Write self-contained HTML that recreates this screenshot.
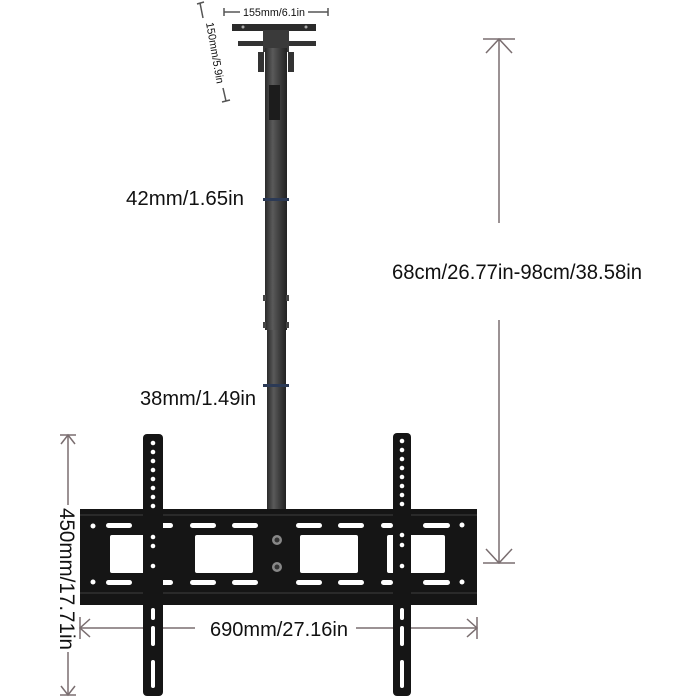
<!DOCTYPE html>
<html><head><meta charset="utf-8"><style>
html,body{margin:0;padding:0;background:#fff;}
svg{display:block;}
text{font-family:"Liberation Sans",sans-serif;fill:#111;}
</style></head><body>
<svg width="700" height="700" viewBox="0 0 700 700" xmlns="http://www.w3.org/2000/svg">
<defs>
<linearGradient id="pg" x1="0" x2="1" y1="0" y2="0">
<stop offset="0" stop-color="#2a2a2a"/><stop offset="0.35" stop-color="#5a5a5a"/><stop offset="0.7" stop-color="#3a3a3a"/><stop offset="1" stop-color="#222"/>
</linearGradient>
</defs>
<g stroke="#555" stroke-width="1.5">
<line x1="224" y1="12" x2="240" y2="12"/><line x1="224" y1="8" x2="224" y2="16"/>
<line x1="308" y1="12" x2="328" y2="12"/><line x1="328" y1="8" x2="328" y2="16"/>
<line x1="200" y1="3" x2="203" y2="18"/><line x1="197" y1="4" x2="204" y2="2"/>
<line x1="223" y1="88" x2="226" y2="101"/><line x1="222" y1="102" x2="230" y2="100"/>
</g>
<text x="243" y="16" font-size="11" textLength="62" lengthAdjust="spacingAndGlyphs">155mm/6.1in</text>
<text x="0" y="0" font-size="11" transform="translate(206,23) rotate(80)" textLength="62" lengthAdjust="spacingAndGlyphs">150mm/5.9in</text>
<rect x="232" y="24" width="84" height="7" fill="#2b2b2b"/>
<rect x="238" y="41" width="78" height="5" fill="#333"/>
<circle cx="243" cy="27" r="1.5" fill="#aaa"/><circle cx="306" cy="27" r="1.5" fill="#aaa"/>
<rect x="263" y="30" width="26" height="22" fill="#3a3a3a"/>
<rect x="265" y="48" width="22" height="282" fill="url(#pg)"/>
<rect x="258" y="52" width="6" height="20" fill="#333"/><rect x="288" y="52" width="6" height="20" fill="#333"/>
<rect x="269" y="85" width="11" height="35" fill="#1c1c1c"/>
<rect x="267" y="330" width="19" height="182" fill="url(#pg)"/>
<rect x="263" y="198" width="26" height="3" fill="#2c3a55"/>
<rect x="263" y="384" width="26" height="3" fill="#2c3a55"/>
<rect x="263" y="295" width="3" height="6" fill="#444"/><rect x="286" y="295" width="3" height="6" fill="#444"/>
<rect x="263" y="322" width="3" height="6" fill="#444"/><rect x="286" y="322" width="3" height="6" fill="#444"/>
<text x="126" y="205" font-size="20" textLength="118" lengthAdjust="spacingAndGlyphs">42mm/1.65in</text>
<text x="140" y="405" font-size="20" textLength="116" lengthAdjust="spacingAndGlyphs">38mm/1.49in</text>
<text x="392" y="279" font-size="21" textLength="250" lengthAdjust="spacingAndGlyphs">68cm/26.77in-98cm/38.58in</text>
<g stroke="#7a6e70" stroke-width="1.5" fill="none">
<line x1="499" y1="39" x2="499" y2="223"/><line x1="483" y1="39" x2="515" y2="39"/>
<polyline points="486,53 499,39 512,53"/>
<line x1="499" y1="320" x2="499" y2="563"/><line x1="483" y1="563" x2="515" y2="563"/>
<polyline points="486,549 499,563 512,549"/>
<line x1="68" y1="435" x2="68" y2="505"/><line x1="60" y1="435" x2="76" y2="435"/>
<polyline points="61,444 68,435 75,444"/>
<line x1="68" y1="652" x2="68" y2="695"/><line x1="60" y1="695" x2="76" y2="695"/>
<polyline points="61,686 68,695 75,686"/>
<line x1="80" y1="628" x2="195" y2="628"/><line x1="80" y1="617" x2="80" y2="639"/>
<polyline points="90,619 80,628 90,637"/>
<line x1="356" y1="628" x2="477" y2="628"/><line x1="477" y1="617" x2="477" y2="639"/>
<polyline points="467,619 477,628 467,637"/>
</g>
<text x="0" y="0" font-size="21" transform="translate(60,508) rotate(90)" textLength="142" lengthAdjust="spacingAndGlyphs">450mm/17.71in</text>
<text x="210" y="636" font-size="20" textLength="138" lengthAdjust="spacingAndGlyphs">690mm/27.16in</text>
<rect x="80" y="509" width="397" height="96" fill="#151515"/>
<rect x="80" y="514" width="397" height="2" fill="#2a2a2a"/>
<rect x="80" y="592" width="397" height="2" fill="#2a2a2a"/>
<g fill="#fff">
<circle cx="93" cy="526" r="2.5"/><circle cx="93" cy="582" r="2.5"/>
<circle cx="462" cy="525" r="2.5"/><circle cx="462" cy="582" r="2.5"/>
<rect x="106" y="523" width="26" height="5" rx="2.5"/><rect x="160" y="523" width="13" height="5" rx="2.5"/>
<rect x="190" y="523" width="26" height="5" rx="2.5"/><rect x="232" y="523" width="26" height="5" rx="2.5"/>
<rect x="296" y="523" width="26" height="5" rx="2.5"/><rect x="338" y="523" width="26" height="5" rx="2.5"/>
<rect x="381" y="523" width="12" height="5" rx="2.5"/><rect x="423" y="523" width="27" height="5" rx="2.5"/>
<rect x="106" y="580" width="26" height="5" rx="2.5"/><rect x="160" y="580" width="13" height="5" rx="2.5"/>
<rect x="190" y="580" width="26" height="5" rx="2.5"/><rect x="232" y="580" width="26" height="5" rx="2.5"/>
<rect x="296" y="580" width="26" height="5" rx="2.5"/><rect x="338" y="580" width="26" height="5" rx="2.5"/>
<rect x="381" y="580" width="12" height="5" rx="2.5"/><rect x="423" y="580" width="27" height="5" rx="2.5"/>
<rect x="110" y="535" width="48" height="38" rx="2"/>
<rect x="195" y="535" width="58" height="38" rx="2"/>
<rect x="300" y="535" width="58" height="38" rx="2"/>
<rect x="387" y="535" width="58" height="38" rx="2"/>
</g>
<circle cx="277" cy="540" r="5" fill="#888"/><circle cx="277" cy="540" r="2.5" fill="#333"/>
<circle cx="277" cy="567" r="5" fill="#888"/><circle cx="277" cy="567" r="2.5" fill="#333"/>
<rect x="143" y="434" width="20" height="262" rx="4" fill="#151515"/>
<rect x="393" y="433" width="18" height="263" rx="4" fill="#151515"/>
<g fill="#fff">
<circle cx="153" cy="443" r="2.3"/><circle cx="153" cy="452" r="2.3"/><circle cx="153" cy="461" r="2.3"/><circle cx="153" cy="470" r="2.3"/><circle cx="153" cy="479" r="2.3"/><circle cx="153" cy="488" r="2.3"/><circle cx="153" cy="497" r="2.3"/><circle cx="153" cy="506" r="2.3"/>
<circle cx="153" cy="537" r="2.3"/><circle cx="153" cy="546" r="2.3"/><circle cx="153" cy="566" r="2.3"/>
<rect x="151" y="608" width="4" height="12" rx="2"/><rect x="151" y="626" width="4" height="20" rx="2"/><rect x="151" y="660" width="4" height="28" rx="2"/>
<circle cx="402" cy="441" r="2.3"/><circle cx="402" cy="450" r="2.3"/><circle cx="402" cy="459" r="2.3"/><circle cx="402" cy="468" r="2.3"/><circle cx="402" cy="477" r="2.3"/><circle cx="402" cy="486" r="2.3"/><circle cx="402" cy="495" r="2.3"/><circle cx="402" cy="504" r="2.3"/>
<circle cx="402" cy="535" r="2.3"/><circle cx="402" cy="545" r="2.3"/><circle cx="402" cy="566" r="2.3"/>
<rect x="400" y="608" width="4" height="12" rx="2"/><rect x="400" y="626" width="4" height="20" rx="2"/><rect x="400" y="660" width="4" height="28" rx="2"/>
</g>
</svg>
</body></html>
